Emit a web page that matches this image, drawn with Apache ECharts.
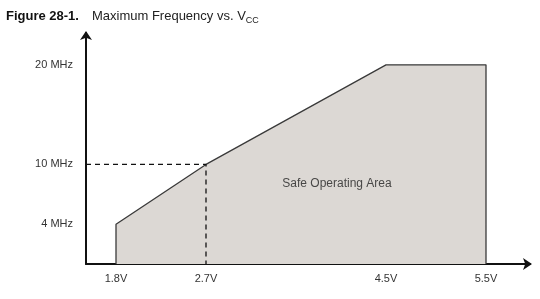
<!DOCTYPE html>
<html><head><meta charset="utf-8">
<script src="https://cdn.jsdelivr.net/npm/echarts@6/dist/echarts.min.js"></script>
<style>html,body{margin:0;padding:0;background:#fff}#c{width:540px;height:299px}</style>
</head><body><div id="c"></div>
<script>
// Data
const voltageTicks = [1.8, 2.7, 4.5, 5.5];
const freqTicks = [4, 10, 20];
const areaVoltage = [1.8, 1.8, 2.7, 4.5, 5.5, 5.5];
const areaFreq = [0, 4, 10, 20, 20, 0];
const guideVoltage = [1.5, 2.7, 2.7];
const guideFreq = [10, 10, 0];
const areaLabel = 'Safe Operating Area';

const chart = echarts.init(document.getElementById('c'), null, {renderer: 'canvas'});
const font = 'Arial, "Liberation Sans", sans-serif';
chart.setOption({
  animation: false,
  title: {
    left: 1, top: 1,
    text: '{b|Figure 28-1.}{n|Maximum Frequency vs. V}{s|CC}',
    textStyle: {
      fontWeight: 'normal', fontFamily: font, fontSize: 11,
      rich: {
        b: {fontFamily: font, fontWeight: 'bold', fontSize: 13, color: '#111', lineHeight: 20, verticalAlign: 'middle'},
        n: {fontFamily: font, fontWeight: 'normal', fontSize: 13, color: '#222', lineHeight: 20, verticalAlign: 'middle', padding: [0, 0, 0, 13]},
        s: {fontFamily: font, fontWeight: 'normal', fontSize: 9, color: '#222', lineHeight: 20, verticalAlign: 'bottom', padding: [0,0,1,0]}
      }
    }
  },
  grid: {left: 86, right: 10, top: 33, bottom: 35, containLabel: false},
  xAxis: {
    type: 'value', min: 1.5, max: 5.94,
    splitLine: {show: false},
    axisLine: {lineStyle: {color: '#111', width: 2}, symbol: ['none', 'arrow'], symbolSize: [9, 9], symbolOffset: [0, 2]},
    axisTick: {show: false},
    axisLabel: {customValues: voltageTicks, formatter: v => v.toFixed(1) + 'V', fontFamily: font, fontSize: 11, color: '#333', margin: 9}
  },
  yAxis: {
    type: 'value', min: 0, max: 23.2,
    splitLine: {show: false},
    axisLine: {lineStyle: {color: '#111', width: 2}, symbol: ['none', 'arrow'], symbolSize: [9, 9], symbolOffset: [0, 2]},
    axisTick: {show: false},
    axisLabel: {customValues: freqTicks, formatter: v => v + ' MHz', fontFamily: font, fontSize: 11, color: '#333', margin: 13}
  },
  series: [
    {
      type: 'line',
      data: areaVoltage.map((v, i) => [v, areaFreq[i]]),
      symbol: 'none',
      lineStyle: {color: '#3a3a3a', width: 1.3},
      areaStyle: {color: '#dcd8d4', opacity: 1},
      z: 2
    },
    {
      type: 'line',
      data: guideVoltage.map((v, i) => [v, guideFreq[i]]),
      symbol: 'none',
      lineStyle: {color: '#111', width: 1.3, type: [5, 4]},
      z: 3
    },
    {
      type: 'scatter',
      data: [[4.01, 8.1]],
      symbolSize: 0,
      label: {show: true, position: 'inside', formatter: areaLabel, fontFamily: font, fontSize: 12, color: '#222'},
      z: 4
    }
  ]
});
</script></body></html>
